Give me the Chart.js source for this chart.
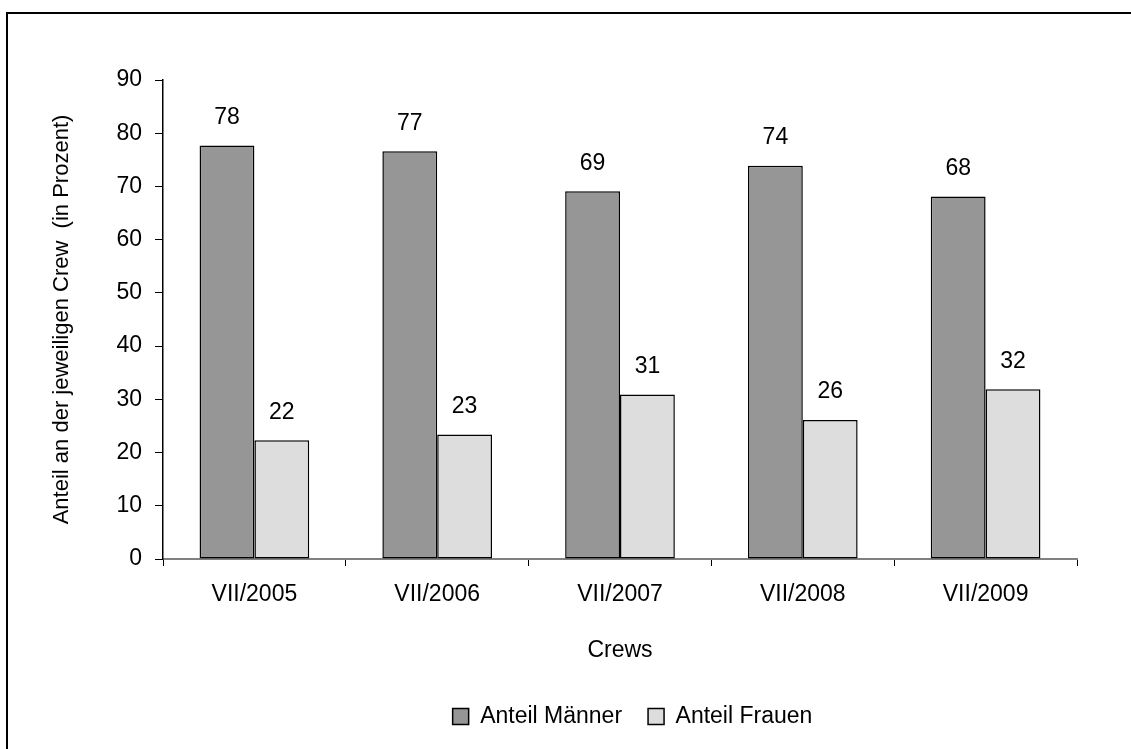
<!DOCTYPE html>
<html lang="de">

<head>
    <meta charset="UTF-8">
    <title>Anteil Männer / Frauen je Crew</title>
    <script src="https://cdn.jsdelivr.net/npm/chart.js"></script>
    <style>
        body { margin: 0; background: #fff; }
        canvas { display: block; }
    </style>
</head>

<body>
    <canvas id="grafico" width="1131" height="749"></canvas>
</body>

</html>

<script>
    // Daten
    const crews = ['VII/2005', 'VII/2006', 'VII/2007', 'VII/2008', 'VII/2009'];
    const anteilMaenner = [77.7, 76.6, 69.1, 73.9, 68.1];
    const anteilFrauen = [22.3, 23.4, 30.9, 26.1, 31.9];
    const yTicks = [0, 10, 20, 30, 40, 50, 60, 70, 80, 90];

    const schrift = 'Arial, "Liberation Sans", sans-serif';

    // Rahmen um das ganze Bild
    const rahmen = {
        id: 'rahmen',
        beforeDraw(chart) {
            const ctx = chart.ctx;
            ctx.save();
            ctx.fillStyle = '#fff';
            ctx.fillRect(0, 0, chart.width, chart.height);
            ctx.strokeStyle = '#000';
            ctx.lineWidth = 2;
            ctx.strokeRect(7, 13, chart.width + 20, chart.height + 20);
            ctx.restore();
        }
    };

    // Legende etwas nach rechts schieben, wie im Original
    const legendeVerschieben = {
        id: 'legendeVerschieben',
        afterLayout(chart) {
            const lg = chart.legend;
            if (!lg) return;
            const dx = 94;
            lg.left += dx;
            lg.right += dx;
            lg.legendHitBoxes.forEach(b => { b.left += dx; });
        }
    };

    // Werte über den Balken
    const werte = {
        id: 'werte',
        afterDatasetsDraw(chart) {
            const ctx = chart.ctx;
            ctx.save();
            ctx.font = '23px ' + schrift;
            ctx.fillStyle = '#000';
            ctx.textAlign = 'center';
            ctx.textBaseline = 'middle';
            chart.data.datasets.forEach((ds, i) => {
                chart.getDatasetMeta(i).data.forEach((bar, j) => {
                    ctx.fillText(Math.round(ds.data[j]), bar.x, bar.y - 28);
                });
            });
            ctx.restore();
        }
    };

    new Chart(document.getElementById('grafico'), {
        type: 'bar',
        data: {
            labels: crews,
            datasets: [{
                label: 'Anteil Männer',
                data: anteilMaenner,
                backgroundColor: '#969696',
                borderColor: '#000',
                borderWidth: 1.5,
                borderSkipped: false
            }, {
                label: 'Anteil Frauen',
                data: anteilFrauen,
                backgroundColor: '#dddddd',
                borderColor: '#000',
                borderWidth: 1.5,
                borderSkipped: false
            }]
        },
        options: {
            responsive: false,
            animation: false,
            layout: { padding: { top: 80, right: 54, bottom: 11, left: 0 } },
            datasets: { bar: { categoryPercentage: 0.6, barPercentage: 1.0 } },
            plugins: {
                tooltip: { enabled: false },
                legend: {
                    position: 'bottom',
                    labels: {
                        boxWidth: 16,
                        boxHeight: 16,
                        padding: 26,
                        color: '#000',
                        font: { family: schrift, size: 23 }
                    }
                }
            },
            scales: {
                x: {
                    afterFit(scale) { scale.height = 120; },
                    grid: { drawOnChartArea: false, drawTicks: true, tickLength: 7, color: '#000', offset: true },
                    border: { color: '#808080', width: 2 },
                    ticks: { color: '#000', padding: 15, font: { family: schrift, size: 23 } },
                    title: {
                        display: true,
                        text: 'Crews',
                        color: '#000',
                        padding: { top: 0, bottom: 15 },
                        font: { family: schrift, size: 23 }
                    }
                },
                y: {
                    min: 0,
                    max: 90,
                    afterFit(scale) { scale.width = 163; },
                    afterBuildTicks(scale) { scale.ticks = yTicks.map(v => ({ value: v })); },
                    grid: { drawOnChartArea: false, drawTicks: true, tickLength: 8, color: '#000' },
                    border: { color: '#000', width: 1.5 },
                    ticks: { color: '#000', padding: 13, font: { family: schrift, size: 23 } },
                    title: {
                        display: true,
                        text: 'Anteil an der jeweiligen Crew  (in Prozent)',
                        color: '#000',
                        padding: { top: 49, bottom: 0 },
                        font: { family: schrift, size: 22 }
                    }
                }
            }
        },
        plugins: [rahmen, legendeVerschieben, werte]
    });
</script>
